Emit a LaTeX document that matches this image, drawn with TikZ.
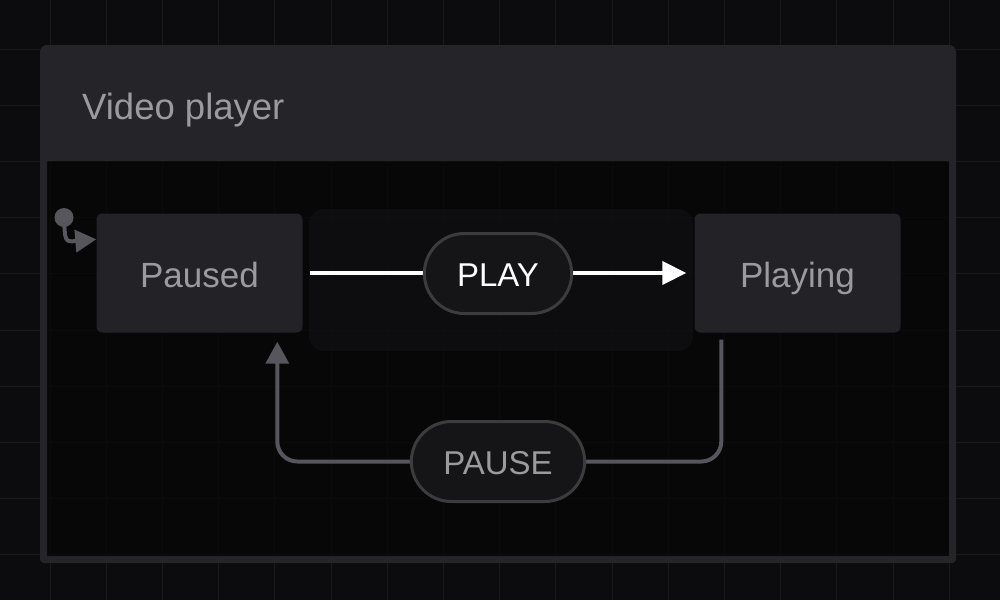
\documentclass[tikz,border=0pt]{standalone}
\usepackage{fontspec}
\setmainfont{Liberation Sans}
\usetikzlibrary{arrows.meta,shapes.misc}
\definecolor{bgcol}{HTML}{0C0C0E}
\definecolor{bodycol}{HTML}{060607}
\definecolor{gridcol}{HTML}{1A1A1D}
\definecolor{framecol}{HTML}{252529}
\definecolor{statecol}{HTML}{232327}
\definecolor{txtcol}{HTML}{9B9B9F}
\definecolor{hilite}{HTML}{141416}
\definecolor{pillfill}{HTML}{151517}
\definecolor{pillline}{HTML}{3C3C3F}
\definecolor{edgecol}{HTML}{56565C}
\begin{document}
\begin{tikzpicture}[x=1pt,y=-1pt,
    state/.style={fill=statecol, rounded corners=6pt, minimum width=206pt, minimum height=119pt,
      text=txtcol, text height=28.6pt, text depth=0pt, font=\fontsize{35}{40}\selectfont},
    event/.style={rounded rectangle, fill=pillfill, draw=pillline, line width=3pt, minimum height=80pt,
      text height=26.6pt, text depth=0pt, font=\fontsize{33}{38}\selectfont},
    playedge/.style={white, line width=4pt, -{Triangle[length=24pt,width=23pt]}},
    pauseedge/.style={edgecol, line width=4pt, rounded corners=20pt, -{Triangle[length=22pt,width=23pt]}},
    initdot/.style={circle, fill=edgecol, minimum size=19pt, inner sep=0pt}]
    \useasboundingbox (0,0) rectangle (1000,600);
    \fill[bgcol] (0,0) rectangle (1000,600);
    \foreach \i in {0,...,16} \draw[gridcol, line width=1pt] (50+56.2*\i,0) -- (50+56.2*\i,600);
    \foreach \j in {0,...,10} \draw[gridcol, line width=1pt] (0,49+56.2*\j) -- (1000,49+56.2*\j);
    % container
    \fill[bodycol, opacity=0.75] (47,161) rectangle (950,556);
    \fill[framecol, rounded corners=7pt] (40,45) rectangle (956,161);
    \fill[framecol] (40,120) rectangle (956,161);
    \fill[framecol, rounded corners=4pt] (40,150) rectangle (47,563) (949,150) rectangle (956,563) (40,556) rectangle (956,563);
    \node[anchor=base west, inner sep=0pt, text=txtcol, font=\fontsize{36.5}{40}\selectfont] (title) at (82,119) {Video player};
    \fill[hilite, opacity=0.5, rounded corners=15pt] (309,209) rectangle (693,351);
    % states
    \node[state] (paused) at (199.5,273) {Paused};
    \node[state] (playing) at (797.5,273) {Playing};
    % initial state
    \node[initdot] (start) at (64,217.5) {};
    \draw[edgecol, line width=4pt, -{Triangle[length=21pt,width=22pt]}] (start.center) .. controls (65,242) .. ([yshift=-26pt]paused.north west);
    % transitions
    \draw[playedge, shorten <=7pt, shorten >=8pt] (paused.east) -- (playing.west);
    \node[event, minimum width=154pt, text=white] (play) at (498,273.5) {PLAY};
    \draw[pauseedge, shorten <=7pt, shorten >=9pt] ([xshift=27pt]playing.south west) |- (498,461.5) -| ([xshift=181pt]paused.south west);
    \node[event, minimum width=180pt, text=txtcol] (pause) at (498,461.5) {PAUSE};
\end{tikzpicture}
\end{document}
